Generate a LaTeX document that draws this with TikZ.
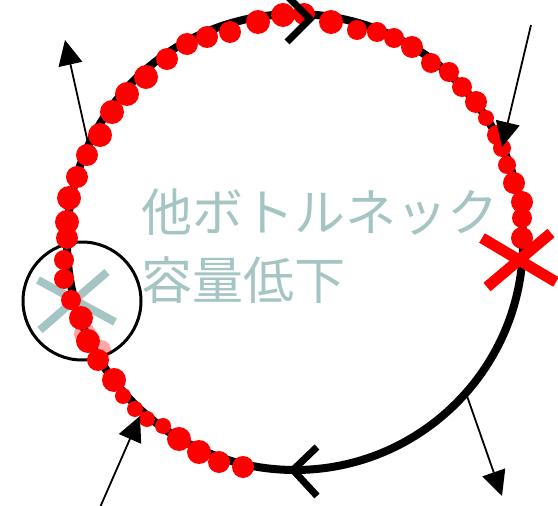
\documentclass[tikz,border=0pt]{standalone}
\usepackage{fontspec}
\newfontfamily\cjk{Noto Sans CJK JP}
\usetikzlibrary{arrows.meta,calc}
\definecolor{greytxt}{HTML}{A5C4C4}
\definecolor{dotred}{HTML}{FF0000}
\tikzset{
  loopline/.style={line width=8pt,black},
  chev/.style={line width=7pt,black},
  flow/.style={line width=1.8pt,-{Triangle[length=25pt,width=24pt]}},
  dot/.style={fill=dotred},
  fadedot/.style={fill=dotred,fill opacity=0.35},
  lbl/.style={text=greytxt,font=\cjk\fontsize{51}{60}\selectfont,inner sep=0pt,anchor=west},
}
\begin{document}
\begin{tikzpicture}[x=1pt,y=-1pt]
\useasboundingbox (0,0) rectangle (558,506);
\clip (0,0) rectangle (558,506);
% main loop
\coordinate (c) at (295,242);
\draw[loopline] (c) circle (228);
% small circle with grey cross (under the dots)
\node[draw,circle,line width=3pt,minimum size=118pt,inner sep=0pt] (sc) at (82,301) {};
\coordinate (gx) at (76,301);
\draw[greytxt,line width=8pt] ($(gx)+(-38,-21)$) -- ($(gx)+(39,21)$);
\draw[greytxt,line width=8pt] ($(gx)+(31,-29)$) -- ($(gx)+(-36,29)$);
% red dots
\foreach \x/\y/\r in {
522/238/11, 522/218/10, 522/202/11, 514/183/11, 507/165/9, 502/148/9,
497/135/10, 486/118/8, 476/102/11, 462/87/10, 449/72/10, 431/63/10,
412/47/11, 394/38/10, 377/32/10, 357/30/10, 331/22/12, 304/14/11,
283/15/12, 258/22/12, 230/32/11, 207/37/11, 187/44/11, 167/59/11,
146/77/12, 127/94/12, 112/112/12, 100/135/12, 87/155/11, 77/177/11,
69/198/12, 67/222/12, 67/238/11, 64/260/10, 64/279/10, 71/300/10,
81/318/12, 88/341/12, 98/360/11, 114/380/12, 123/396/8, 135/409/8,
147/419/8, 163/426/8, 179/439/12, 199/452/12, 219/462/11, 243/467/11}
  {\fill[dot] (\x,\y) circle (\r);}
\fill[fadedot] (85,334) circle (11);
\fill[fadedot] (101,350) circle (10);
% direction chevrons
\coordinate (t) at (310,19);
\coordinate (b) at (293,470);
\draw[chev] (287,-4) -- (t) -- (287,42);
\draw[chev] (317,447) -- (b) -- (317,496);
% flow arrows
\coordinate (a1s) at (88,143);  \coordinate (a1e) at (65,40);
\coordinate (a2s) at (531,25);  \coordinate (a2e) at (502,147);
\coordinate (a3s) at (98,512);  \coordinate (a3e) at (140,416);
\coordinate (a4s) at (467,396); \coordinate (a4e) at (502,496);
\draw[flow] (a1s) -- (a1e);
\draw[flow] (a2s) -- (a2e);
\draw[flow] (a3s) -- (a3e);
\draw[flow] (a4s) -- (a4e);
% red cross at right
\coordinate (rx) at (519,260);
\draw[dotred,line width=11pt] ($(rx)+(-37,-22)$) -- ($(rx)+(37,22)$);
\draw[dotred,line width=11pt] ($(rx)+(32,-27)$) -- ($(rx)+(-32,27)$);
% labels
\node[lbl] (l1) at (141,212) {他ボトルネック};
\node[lbl] (l2) at (141,280) {容量低下};
\end{tikzpicture}
\end{document}
